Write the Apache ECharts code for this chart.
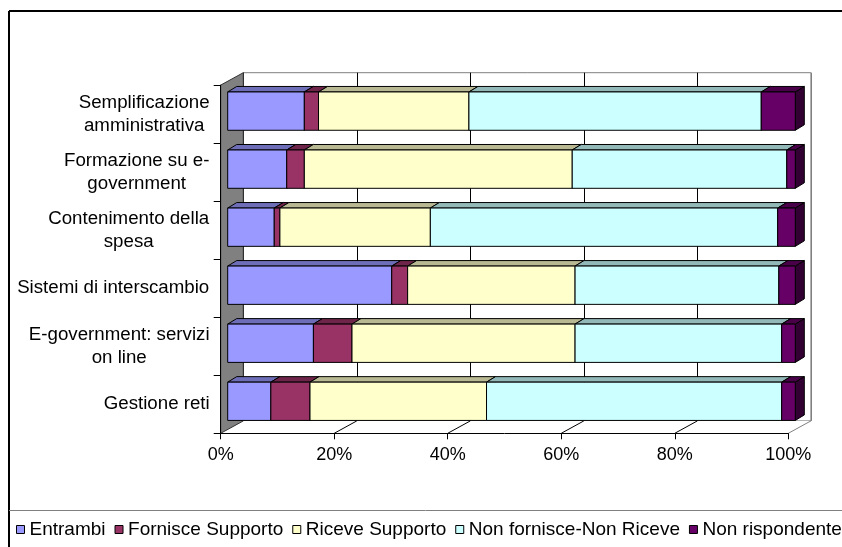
<!DOCTYPE html>
<html>
<head>
<meta charset="utf-8">
<script src="https://cdn.jsdelivr.net/npm/echarts@6/dist/echarts.min.js"></script>
<style>
  html, body { margin: 0; padding: 0; background: #fff; }
  #chart { width: 842px; height: 547px; }
</style>
</head>
<body>
<div id="chart"></div>
<script>
// Categories (top to bottom) and percentage shares of each response
const CATEGORIES = [
  'Semplificazione\namministrativa',
  'Formazione su e-\ngovernment',
  'Contenimento della\nspesa',
  'Sistemi di interscambio',
  'E-government: servizi\non line',
  'Gestione reti'
];
const SERIES_NAMES = ['Entrambi', 'Fornisce Supporto', 'Riceve Supporto', 'Non fornisce-Non Riceve', 'Non rispondente'];
const ENTRAMBI   = [13.5, 10.4,  8.2, 28.9, 15.1,  7.6];
const FORNISCE   = [ 2.5,  3.1,  1.0,  2.8,  6.8,  6.9];
const RICEVE     = [26.5, 47.2, 26.5, 29.5, 39.3, 31.1];
const NON_NON    = [51.5, 37.8, 61.2, 35.9, 36.4, 52.0];
const NON_RISP   = [ 6.0,  1.5,  3.1,  2.9,  2.4,  2.4];
const X_TICKS = [0, 20, 40, 60, 80, 100];

// Styling
const COLORS = ['#9999FF', '#993366', '#FFFFCC', '#CCFFFF', '#660066'];
const FONT = "'Liberation Sans', Arial, sans-serif";
const LABEL_SIZE = 18.7;
const FRONT = { left: 220.7, top: 85.1, width: 567.6, height: 348.2 };
const DEPTH = [22.6, -12.4];      // offset of the back wall
const BAR_SHIFT = [7, -3];        // bar front face inside the depth
const BAR_DEPTH = [9, -5.5];      // thickness of each box
const BAR_RATIO = 0.66;

const VALUES = [ENTRAMBI, FORNISCE, RICEVE, NON_NON, NON_RISP];

function shade(hex, f) {
  const n = parseInt(hex.slice(1), 16);
  const r = Math.round(((n >> 16) & 255) * f);
  const g = Math.round(((n >> 8) & 255) * f);
  const b = Math.round((n & 255) * f);
  return 'rgb(' + r + ',' + g + ',' + b + ')';
}

// Measure label lines so that two-line labels are centred within their block
const measureCtx = document.createElement('canvas').getContext('2d');
measureCtx.font = LABEL_SIZE + 'px ' + FONT;
const labelRich = {};
CATEGORIES.forEach(function (c, i) {
  const w = Math.max.apply(null, c.split('\n').map(function (l) { return measureCtx.measureText(l).width; }));
  labelRich['c' + i] = { width: Math.ceil(w), align: 'center', fontSize: LABEL_SIZE, lineHeight: 23, color: '#000', fontFamily: FONT };
});

// Stacked boxes: [start, end, categoryIndex]
const cum = CATEGORIES.map(function () { return 0; });
const boxSeries = SERIES_NAMES.map(function (name, s) {
  const data = VALUES[s].map(function (v, i) {
    const item = [cum[i], cum[i] + v, i];
    cum[i] += v;
    return item;
  });
  return {
    name: name,
    type: 'custom',
    xAxisIndex: 0,
    yAxisIndex: 0,
    z: 3,
    itemStyle: { color: COLORS[s], borderColor: '#000', borderWidth: 1 },
    encode: { x: [0, 1], y: 2 },
    data: data,
    renderItem: function (params, api) {
      const start = api.value(0), end = api.value(1), cat = api.value(2);
      const p0 = api.coord([start, cat]);
      const p1 = api.coord([end, cat]);
      const h = api.size([0, 1])[1] * BAR_RATIO;
      const x0 = p0[0] + BAR_SHIFT[0];
      const x1 = p1[0] + BAR_SHIFT[0];
      const yT = p0[1] + BAR_SHIFT[1] - h / 2;
      const yB = yT + h;
      const dx = BAR_DEPTH[0], dy = BAR_DEPTH[1];
      const base = COLORS[s];
      return {
        type: 'group',
        children: [
          { type: 'polygon', shape: { points: [[x1, yT], [x1 + dx, yT + dy], [x1 + dx, yB + dy], [x1, yB]] },
            style: { fill: shade(base, 0.5), stroke: '#000', lineWidth: 1 } },
          { type: 'polygon', shape: { points: [[x0, yT], [x0 + dx, yT + dy], [x1 + dx, yT + dy], [x1, yT]] },
            style: { fill: shade(base, 0.72), stroke: '#000', lineWidth: 1 } },
          { type: 'rect', shape: { x: x0, y: yT, width: x1 - x0, height: h },
            style: { fill: base, stroke: '#000', lineWidth: 1 } }
        ]
      };
    }
  };
});

// Side wall and floor of the 3D plot box
const frameSeries = {
  name: 'frame',
  type: 'custom',
  xAxisIndex: 0,
  yAxisIndex: 0,
  z: 2,
  silent: true,
  encode: { x: 0, y: 1 },
  data: [[0, 0]],
  renderItem: function (params, api) {
    const cs = params.coordSys;
    const dx = DEPTH[0], dy = DEPTH[1];
    const L = cs.x, T = cs.y, R = cs.x + cs.width, B = cs.y + cs.height;
    const children = [
      { type: 'polygon', shape: { points: [[L, B], [R, B], [R + dx, B + dy], [L + dx, B + dy]] },
        style: { fill: '#fff', stroke: null } },
      { type: 'polygon', shape: { points: [[L, T], [L + dx, T + dy], [L + dx, B + dy], [L, B]] },
        style: { fill: '#808080', stroke: '#333', lineWidth: 1 } }
    ];
    X_TICKS.slice(1).forEach(function (v) {
      const x = api.coord([v, 0])[0];
      children.push({ type: 'line', shape: { x1: x, y1: B, x2: x + dx, y2: B + dy },
        style: { stroke: v === 100 ? '#808080' : '#000', lineWidth: 1 } });
    });
    return { type: 'group', children: children };
  }
};

const chart = echarts.init(document.getElementById('chart'), null, { renderer: 'canvas' });
chart.setOption({
  animation: false,
  backgroundColor: '#fff',
  textStyle: { fontFamily: FONT },
  grid: [
    { left: FRONT.left, top: FRONT.top, width: FRONT.width, height: FRONT.height },
    { left: FRONT.left + DEPTH[0], top: FRONT.top + DEPTH[1], width: FRONT.width, height: FRONT.height,
      show: true, backgroundColor: '#fff', borderColor: '#808080', borderWidth: 1 }
  ],
  xAxis: [
    { type: 'value', gridIndex: 0, min: 0, max: 100, interval: 20, z: 10,
      axisLine: { show: true, lineStyle: { color: '#000', width: 1 } },
      axisTick: { show: true, length: 6, lineStyle: { color: '#000' } },
      splitLine: { show: false },
      axisLabel: { formatter: '{value}%', fontSize: 18, color: '#000', margin: 13, fontFamily: FONT } },
    { type: 'value', gridIndex: 1, min: 0, max: 100, interval: 20,
      axisLine: { show: false }, axisTick: { show: false }, axisLabel: { show: false },
      splitLine: { show: true, lineStyle: { color: ['#000', '#000', '#000', '#000', '#000', '#808080'], width: 1 } } }
  ],
  yAxis: [
    { type: 'category', gridIndex: 0, data: CATEGORIES, inverse: true, z: 10,
      axisLine: { show: true, lineStyle: { color: '#000', width: 1 } },
      axisTick: { show: true, length: 7, lineStyle: { color: '#000' } },
      splitLine: { show: false },
      axisLabel: {
        margin: 11, align: 'right', rich: labelRich,
        formatter: function (value, index) {
          return value.split('\n').map(function (l) { return '{c' + index + '|' + l + '}'; }).join('\n');
        }
      } },
    { type: 'category', gridIndex: 1, data: CATEGORIES, inverse: true,
      axisLine: { show: false }, axisTick: { show: false }, axisLabel: { show: false }, splitLine: { show: false } }
  ],
  legend: {
    data: SERIES_NAMES,
    left: 11, top: 515, width: 1400,
    icon: 'rect', itemWidth: 8, itemHeight: 8, itemGap: 9,
    itemStyle: { borderColor: '#000', borderWidth: 1 },
    textStyle: { fontSize: 19, color: '#000', fontFamily: FONT }
  },
  graphic: [
    { type: 'line', z: 100, shape: { x1: 9, y1: 11, x2: 842, y2: 11 }, style: { stroke: '#000', lineWidth: 2 } },
    { type: 'line', z: 100, shape: { x1: 9, y1: 11, x2: 9, y2: 547 }, style: { stroke: '#000', lineWidth: 2 } },
    { type: 'line', z: 100, shape: { x1: 9, y1: 510.5, x2: 842, y2: 510.5 }, style: { stroke: '#808080', lineWidth: 1 } }
  ],
  series: [frameSeries].concat(boxSeries)
});
</script>
</body>
</html>
